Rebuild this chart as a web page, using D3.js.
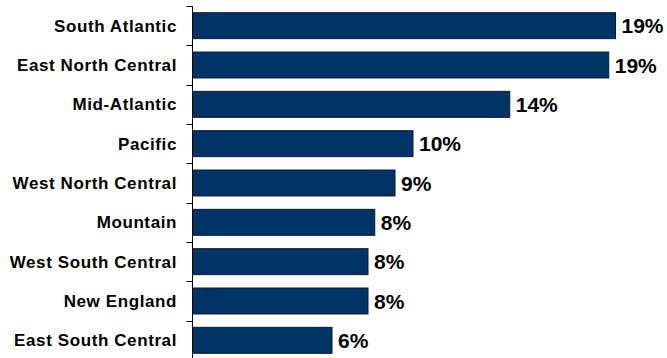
<!DOCTYPE html>
<html>
<head>
<meta charset="utf-8">
<script src="https://cdn.jsdelivr.net/npm/d3@7"></script>
<style>
  html, body { margin: 0; padding: 0; background: #fff; }
  svg { display: block; }
  text { font-family: "Liberation Sans", Arial, sans-serif; font-weight: bold; fill: #000; }
</style>
</head>
<body>
<svg id="chart" width="667" height="358"></svg>
<script>
// Share of total by census region (percent)
const regions = [
  "South Atlantic", "East North Central", "Mid-Atlantic", "Pacific",
  "West North Central", "Mountain", "West South Central", "New England",
  "East South Central"
];
const shares = [18.8, 18.5, 14.1, 9.8, 9.0, 8.1, 7.8, 7.8, 6.2];

const data = regions.map((r, i) => ({ region: r, value: shares[i] }));

const svg = d3.select("#chart");
const axisX = 192.5;

const x = d3.scaleLinear().domain([0, 21]).range([axisX, axisX + 21 * 22.5]);
const y = d3.scaleBand()
  .domain(regions)
  .range([6, 360])
  .paddingInner(0.34)
  .paddingOuter(0.17);

const fmt = v => d3.format(".0f")(v) + "%";

// Bars
svg.append("g").selectAll("rect")
  .data(data)
  .join("rect")
  .attr("x", x(0))
  .attr("y", d => y(d.region))
  .attr("width", d => x(d.value) - x(0))
  .attr("height", y.bandwidth())
  .attr("fill", "#003366")
  .attr("stroke", "#0d1a2b")
  .attr("stroke-width", 1);

// Category axis: line, ticks at band boundaries, labels
const axis = svg.append("g");
axis.append("line")
  .attr("x1", axisX).attr("x2", axisX)
  .attr("y1", y.range()[0]).attr("y2", y.range()[1])
  .attr("stroke", "#000").attr("stroke-width", 1);

const bounds = regions.map(r => y(r) - y.step() * y.paddingOuter());
axis.selectAll("line.tick")
  .data(bounds)
  .join("line")
  .attr("class", "tick")
  .attr("x1", axisX - 6).attr("x2", axisX)
  .attr("y1", d => Math.round(d) + 0.5).attr("y2", d => Math.round(d) + 0.5)
  .attr("stroke", "#000").attr("stroke-width", 1);

axis.selectAll("text")
  .data(data)
  .join("text")
  .attr("x", 177)
  .attr("y", d => y(d.region) + y.bandwidth() / 2)
  .attr("dy", "0.35em")
  .attr("text-anchor", "end")
  .style("font-size", "17px")
  .style("letter-spacing", "0.6px")
  .text(d => d.region);

// Value labels
svg.append("g").selectAll("text")
  .data(data)
  .join("text")
  .attr("x", d => x(d.value) + 6)
  .attr("y", d => y(d.region) + y.bandwidth() / 2)
  .attr("dy", "0.36em")
  .style("font-size", "21px")
  .text(d => fmt(d.value));
</script>
</body>
</html>
